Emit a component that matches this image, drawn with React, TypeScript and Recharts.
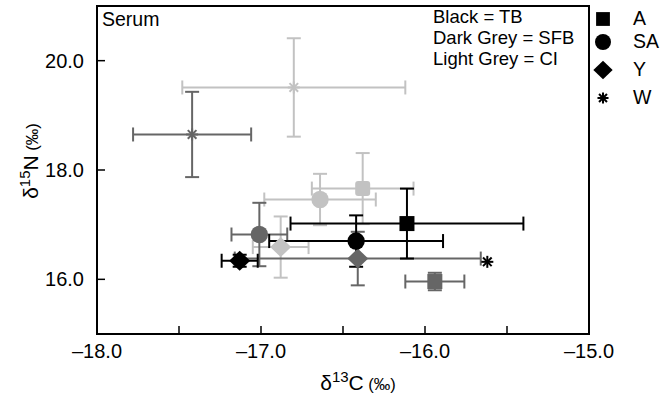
import React from 'react'
import { ScatterChart, Scatter, XAxis, YAxis, ErrorBar, ReferenceArea } from 'recharts'

const font = '"Liberation Sans", Arial, Helvetica, sans-serif'

// sites (marker shapes) and groups (grey levels)
const sites = ['A', 'SA', 'Y', 'W']
const groups = ['CI', 'SFB', 'TB'] // drawing order, light first
const groupColors = ['#c2c2c2', '#666666', '#000000']
const groupLabels = ['Black = TB', 'Dark Grey = SFB', 'Light Grey = CI']

// mean d13C / d15N and SD per site, in order A, SA, Y, W
const tbC = [-16.11, -16.42, -17.13, -15.62]
const tbN = [17.02, 16.7, 16.34, 16.32]
const tbCsd = [0.71, 0.53, 0.11, 0]
const tbNsd = [0.64, 0.47, 0.11, 0]

const sfbC = [-15.94, -17.01, -16.41, -17.42]
const sfbN = [15.96, 16.82, 16.38, 18.65]
const sfbCsd = [0.18, 0.17, 0.75, 0.36]
const sfbNsd = [0.16, 0.58, 0.49, 0.78]

const ciC = [-16.38, -16.64, -16.88, -16.8]
const ciN = [17.66, 17.46, 16.59, 19.51]
const ciCsd = [0.31, 0.34, 0.17, 0.68]
const ciNsd = [0.65, 0.47, 0.56, 0.9]

const xTicks = [-18, -17.5, -17, -16.5, -16, -15.5, -15]
const yTicks = [16, 18, 20]

const groupData = [
  [ciC, ciN, ciCsd, ciNsd],
  [sfbC, sfbN, sfbCsd, sfbNsd],
  [tbC, tbN, tbCsd, tbNsd],
]

const series = groups.flatMap((g, gi) =>
  sites.map((s, si) => {
    const [c, n, cs, ns] = groupData[gi]
    return {
      key: g + s,
      site: s,
      color: groupColors[gi],
      rows: [{ c: c[si], n: n[si], cSd: cs[si], nSd: ns[si] }],
    }
  })
)

const Marker = ({ cx, cy, kind, color, k = 1 }: any) => {
  if (kind === 'A') {
    const h = 7.5 * k
    return <rect x={cx - h} y={cy - h} width={2 * h} height={2 * h} fill={color} rx={color === '#c2c2c2' ? 3 : 0} />
  }
  if (kind === 'SA') return <circle cx={cx} cy={cy} r={8.7 * k} fill={color} />
  if (kind === 'Y') {
    const w = 10.5 * k
    const h = 10 * k
    return <polygon points={`${cx},${cy - h} ${cx + w},${cy} ${cx},${cy + h} ${cx - w},${cy}`} fill={color} />
  }
  const r = 6 * k
  const d = r * 0.72
  return (
    <g stroke={color} strokeWidth={2}>
      <line x1={cx - r} y1={cy} x2={cx + r} y2={cy} />
      <line x1={cx} y1={cy - r} x2={cx} y2={cy + r} />
      <line x1={cx - d} y1={cy - d} x2={cx + d} y2={cy + d} />
      <line x1={cx - d} y1={cy + d} x2={cx + d} y2={cy - d} />
    </g>
  )
}

const fmt = (v: number) => (v < 0 ? '\u2013' : '') + Math.abs(v).toFixed(1)

const XTick = ({ x, y, payload }: any) => {
  const v = payload.value
  return (
    <g>
      <line x1={x} x2={x} y1={y} y2={y - 8} stroke="#000" strokeWidth={1.5} />
      {Number.isInteger(v) && (
        <text x={x} y={y + 24} textAnchor="middle" fontSize={20} fontFamily={font} fill="#000">
          {fmt(v)}
        </text>
      )}
    </g>
  )
}

const YTick = ({ x, y, payload }: any) => (
  <g>
    <line x1={x} x2={x + 8} y1={y} y2={y} stroke="#000" strokeWidth={1.5} />
    <text x={x - 13} y={y + 7} textAnchor="end" fontSize={20} fontFamily={font} fill="#000">
      {fmt(payload.value)}
    </text>
  </g>
)

export default function App() {
  return (
    <div style={{ position: 'absolute', left: 0, top: 0, width: 661, height: 404, background: '#fff' }}>
      <ScatterChart width={661} height={404} margin={{ top: 6, right: 72, bottom: 30, left: 37 }}>
        <XAxis
          type="number"
          dataKey="c"
          domain={[-18, -15]}
          ticks={xTicks}
          interval={0}
          allowDataOverflow
          height={40}
          tickSize={0}
          tickMargin={0}
          tickLine={false}
          axisLine={{ stroke: '#000', strokeWidth: 2 }}
          tick={<XTick />}
        />
        <YAxis
          type="number"
          dataKey="n"
          domain={[15, 21]}
          ticks={yTicks}
          interval={0}
          allowDataOverflow
          width={60}
          tickSize={0}
          tickMargin={0}
          tickLine={false}
          axisLine={{ stroke: '#000', strokeWidth: 2 }}
          tick={<YTick />}
        />
        <ReferenceArea x1={-18} x2={-15} y1={15} y2={21} fill="none" stroke="#000" strokeWidth={2} />
        {series.map((s) => (
          <Scatter
            key={s.key}
            data={s.rows}
            isAnimationActive={false}
            shape={(p: any) => <Marker cx={p.cx} cy={p.cy} kind={s.site} color={s.color} />}
          >
            {s.rows[0].cSd > 0 && (
              <ErrorBar dataKey="cSd" direction="x" width={7} stroke={s.color} strokeWidth={2} />
            )}
            {s.rows[0].nSd > 0 && (
              <ErrorBar dataKey="nSd" direction="y" width={7} stroke={s.color} strokeWidth={2} />
            )}
          </Scatter>
        ))}
      </ScatterChart>
      <svg
        width={661}
        height={404}
        style={{ position: 'absolute', left: 0, top: 0, pointerEvents: 'none' }}
        fontFamily={font}
      >
        <text x={102} y={26} fontSize={19.5}>Serum</text>
        {groupLabels.map((t, i) => (
          <text key={t} x={433} y={23 + i * 21} fontSize={18.5}>
            {t}
          </text>
        ))}
        {sites.map((s, i) => {
          const cy = [19, 42, 70, 98][i]
          return (
            <g key={s}>
              <Marker cx={603} cy={cy} kind={s} color="#000" k={0.92} />
              <text x={633} y={cy + 6} fontSize={19.5}>
                {s}
              </text>
            </g>
          )
        })}
        <text x={358} y={390} textAnchor="middle" fontSize={21}>
          δ<tspan fontSize={15} dy={-8}>13</tspan>
          <tspan dy={8}>C</tspan>
          <tspan fontSize={16.5}> (‰)</tspan>
        </text>
        <text x={38} y={161} textAnchor="middle" fontSize={21} transform="rotate(-90 38 161)">
          δ<tspan fontSize={15} dy={-8}>15</tspan>
          <tspan dy={8}>N</tspan>
          <tspan fontSize={16.5}> (‰)</tspan>
        </text>
      </svg>
    </div>
  )
}
